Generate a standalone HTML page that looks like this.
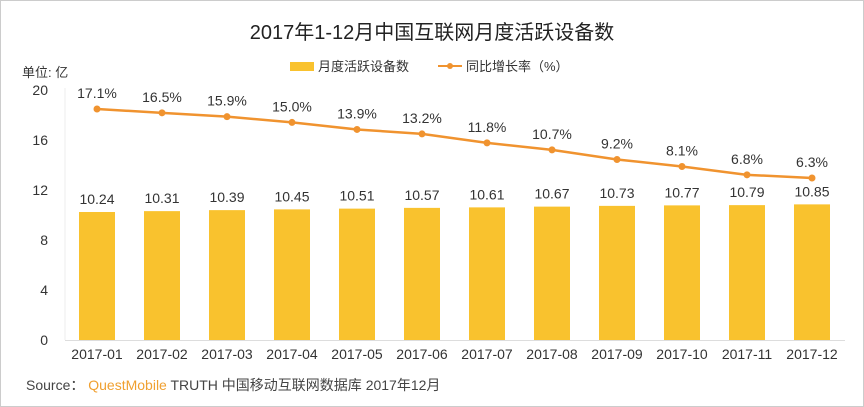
<!DOCTYPE html>
<html><head><meta charset="utf-8"><style>
body{margin:0;background:#fff}
svg{display:block;font-family:"Liberation Sans","Noto Sans CJK SC",sans-serif}
</style></head><body>
<svg width="864" height="407" viewBox="0 0 864 407">
<rect x="0.5" y="0.5" width="863" height="406" fill="#fff" stroke="#ccc"/>
<text x="432" y="39" font-size="20" text-anchor="middle" fill="#222">2017年1-12月中国互联网月度活跃设备数</text>
<rect x="290" y="62" width="24" height="9" fill="#f9c22e"/>
<text x="318" y="71" font-size="13" fill="#333">月度活跃设备数</text>
<line x1="438" y1="66" x2="462" y2="66" stroke="#f0932f" stroke-width="2"/>
<circle cx="450" cy="66" r="3" fill="#f0932f"/>
<text x="466" y="71" font-size="13" fill="#333">同比增长率（%）</text>
<text x="22" y="77" font-size="13" fill="#333">单位: 亿</text>
<g font-size="14" fill="#333" text-anchor="end">
<text x="48" y="95">20</text><text x="48" y="145">16</text><text x="48" y="195">12</text>
<text x="48" y="245">8</text><text x="48" y="295">4</text><text x="48" y="345">0</text>
</g>
<line x1="65" y1="88" x2="65" y2="340" stroke="#eee"/>
<line x1="65" y1="340.5" x2="845" y2="340.5" stroke="#ddd"/>
<g id="bars" fill="#f9c22e"></g>
<g id="lbl" font-size="14" fill="#333" text-anchor="middle"></g>
<polyline id="ln" fill="none" stroke="#f0932f" stroke-width="2.5"/>
<g id="pts" fill="#f0932f"></g>
<text x="26" y="390" font-size="14" fill="#444">Source： <tspan fill="#f0a030">QuestMobile</tspan> TRUTH 中国移动互联网数据库 2017年12月</text>
<script>
var v=[10.24,10.31,10.39,10.45,10.51,10.57,10.61,10.67,10.73,10.77,10.79,10.85];
var g=[17.1,16.5,15.9,15.0,13.9,13.2,11.8,10.7,9.2,8.1,6.8,6.3];
var ns="http://www.w3.org/2000/svg",b=document.getElementById('bars'),l=document.getElementById('lbl'),p=document.getElementById('pts'),pl=[];
function t(x,y,s){var e=document.createElementNS(ns,'text');e.setAttribute('x',x);e.setAttribute('y',y);e.textContent=s;l.appendChild(e);}
for(var i=0;i<12;i++){var cx=97+i*65,y=340-v[i]*12.5;
var r=document.createElementNS(ns,'rect');r.setAttribute('x',cx-18);r.setAttribute('y',y);r.setAttribute('width',36);r.setAttribute('height',340-y);b.appendChild(r);
t(cx,y-8,v[i].toFixed(2));t(cx,359,'2017-'+(i<9?'0':'')+(i+1));
var ly=109+(17.1-g[i])*6.39;pl.push(cx+','+ly);
var c=document.createElementNS(ns,'circle');c.setAttribute('cx',cx);c.setAttribute('cy',ly);c.setAttribute('r',3.5);p.appendChild(c);
t(cx,ly-11,g[i].toFixed(1)+'%');}
document.getElementById('ln').setAttribute('points',pl.join(' '));
</script>
</svg>
</body></html>
